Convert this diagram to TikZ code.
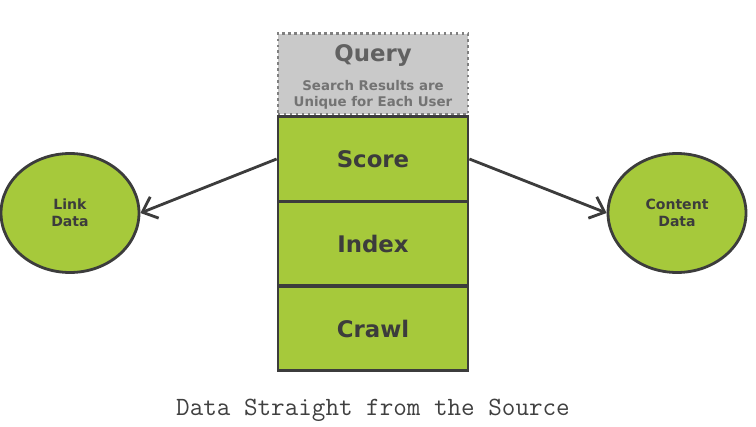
\documentclass[tikz,border=0pt]{standalone}
\usepackage{fontspec}
\setmainfont{DejaVu Sans}
\usepackage{tikz}
\usetikzlibrary{positioning,arrows.meta,shapes.geometric}

\definecolor{leafgreen}{HTML}{A6C93B}
\definecolor{querygray}{HTML}{C9C9C9}
\definecolor{inkgray}{HTML}{3C3C3C}

\begin{document}
\begin{tikzpicture}[x=0.02cm, y=-0.02cm,
  layerbox/.style={rectangle, draw=inkgray, line width=1.6pt, fill=leafgreen, minimum width=3.8cm, minimum height=1.69cm, inner sep=0pt, font=\fontsize{13}{15}\selectfont\bfseries, text=inkgray},
  querybox/.style={rectangle, draw=gray, dotted, line width=1.4pt, fill=querygray, minimum width=3.8cm, minimum height=1.62cm, inner sep=0pt, text=black!62, align=center},
  blob/.style={ellipse, draw=inkgray, line width=1.6pt, fill=leafgreen, minimum width=2.76cm, minimum height=2.38cm, inner sep=0pt, font=\fontsize{8}{9.5}\selectfont\bfseries, text=inkgray, align=center},
  arr/.style={draw=inkgray, line width=1.6pt, -{Straight Barb[length=2.6mm, width=4.6mm]}},
  captiontext/.style={font=\ttfamily\fontsize{15}{17}\selectfont, text=black!75}
]
\useasboundingbox (0,0) rectangle (756,426);

\node[querybox] (query) at (373,74) {};
\node[font=\fontsize{13}{15}\selectfont\bfseries, text=black!62] (querytitle) at (373,55) {Query};
\node[font=\fontsize{7.6}{9.2}\selectfont\bfseries, text=black!55, align=center] (querynote) at (373,95) {Search Results are\\Unique for Each User};
\node[layerbox] (score) at (373,159) {Score};
\node[layerbox] (index) at (373,243.5) {Index};
\node[layerbox] (crawl) at (373,328.5) {Crawl};
\node[blob] (link) at (70,213) {Link\\Data};
\node[blob] (content) at (677,213) {Content\\Data};
\draw[arr] (score.west) -- (link.east);
\draw[arr] (score.east) -- (content.west);
\node[captiontext] (caption) at (373,410) {Data Straight from the Source};

\end{tikzpicture}
\end{document}
